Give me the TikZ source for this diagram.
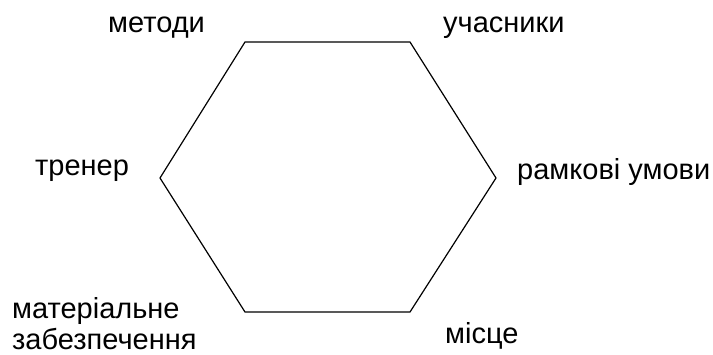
\documentclass[tikz,border=0pt]{standalone}
\usepackage{fontspec}
\setmainfont{Liberation Sans}
\usetikzlibrary{positioning}

\begin{document}
\begin{tikzpicture}[x=1pt, y=-1pt, every node/.style={font=\fontsize{29}{31}\selectfont, inner sep=0pt, anchor=base west}]
      \useasboundingbox (0,0) rectangle (713,354);
      % hexagon corners
      \coordinate (tl) at (245,42);
      \coordinate (tr) at (410,42);
      \coordinate (r) at (496,178);
      \coordinate (br) at (410,312);
      \coordinate (bl) at (245,312);
      \coordinate (l) at (160,178);
      \draw[line width=1.2pt, line join=miter] (tl) -- (tr) -- (r) -- (br) -- (bl) -- (l) -- cycle;
      % labels
      \node (metody) at (108,32) {методи};
      \node (uchasnyky) at (443,32) {учасники};
      \node (trener) at (35,175) {тренер};
      \node (umovy) at (517,179) {рамкові умови};
      \node[align=left] (zabezp) at (12,349) {матеріальне\\забезпечення};
      \node (mistse) at (445,343) {місце};
    \end{tikzpicture}
\end{document}
